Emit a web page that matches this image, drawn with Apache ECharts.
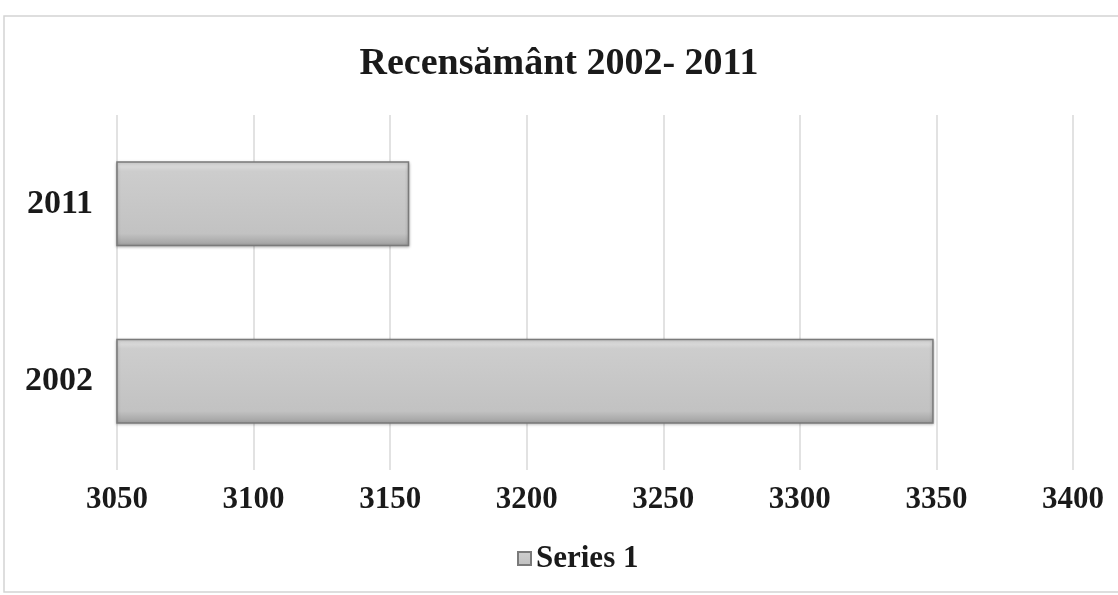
<!DOCTYPE html>
<html>
<head>
<meta charset="utf-8">
<script src="https://cdn.jsdelivr.net/npm/echarts@6/dist/echarts.min.js"></script>
<style>
  html, body { margin: 0; padding: 0; background: #fff; }
  #chart { width: 1118px; height: 595px; }
</style>
</head>
<body>
<div id="chart"></div>
<script>
// date
const categories = ['2002', '2011'];
const values = [3349, 3157];
const seriesName = 'Series 1';
const xMin = 3050, xMax = 3400, xStep = 50;

const serif = '"Liberation Serif", "DejaVu Serif", serif';

let mycharts = echarts.init(document.getElementById('chart'));
mycharts.setOption({
    animation: false,
    title: {
        text: 'Recensământ 2002- 2011',
        left: 'center',
        top: 40,
        textStyle: { color: '#1a1a1a', fontSize: 38, fontWeight: 'bold', fontFamily: serif }
    },
    // chenarul exterior
    graphic: [{
        type: 'rect',
        shape: { x: 4, y: 16, width: 1120, height: 576 },
        style: { fill: 'none', stroke: '#d4d4d4', lineWidth: 1.5 }
    }],
    grid: { left: 117, right: 45, top: 115, bottom: 125 },
    xAxis: {
        type: 'value',
        min: xMin,
        max: xMax,
        interval: xStep,
        axisLine: { show: false },
        axisTick: { show: false },
        splitLine: { show: true, lineStyle: { color: '#d9d9d9', width: 1.5 } },
        axisLabel: {
            margin: 14,
            color: '#1a1a1a',
            fontSize: 31,
            fontWeight: 'bold',
            fontFamily: serif,
            formatter: v => String(v)
        }
    },
    yAxis: {
        type: 'category',
        data: categories,
        axisLine: { show: false },
        axisTick: { show: false },
        axisLabel: {
            margin: 24,
            color: '#1a1a1a',
            fontSize: 34,
            fontWeight: 'bold',
            fontFamily: serif
        }
    },
    legend: {
        bottom: 16,
        left: 512,
        icon: 'rect',
        itemWidth: 13,
        itemHeight: 13,
        itemGap: 4,
        textStyle: { color: '#1a1a1a', fontSize: 31, fontWeight: 'bold', fontFamily: serif },
        data: [seriesName]
    },
    series: [{
        name: seriesName,
        type: 'bar',
        data: values,
        barCategoryGap: '52%',
        itemStyle: {
            color: {
                type: 'linear', x: 0, y: 0, x2: 0, y2: 1,
                colorStops: [
                    { offset: 0, color: '#e4e4e4' },
                    { offset: 0.12, color: '#cdcdcd' },
                    { offset: 0.85, color: '#c2c2c2' },
                    { offset: 1, color: '#9e9e9e' }
                ]
            },
            borderColor: '#7a7a7a',
            borderWidth: 1.5,
            shadowColor: 'rgba(0,0,0,0.25)',
            shadowBlur: 3,
            shadowOffsetY: 1
        }
    }]
});
</script>
</body>
</html>
